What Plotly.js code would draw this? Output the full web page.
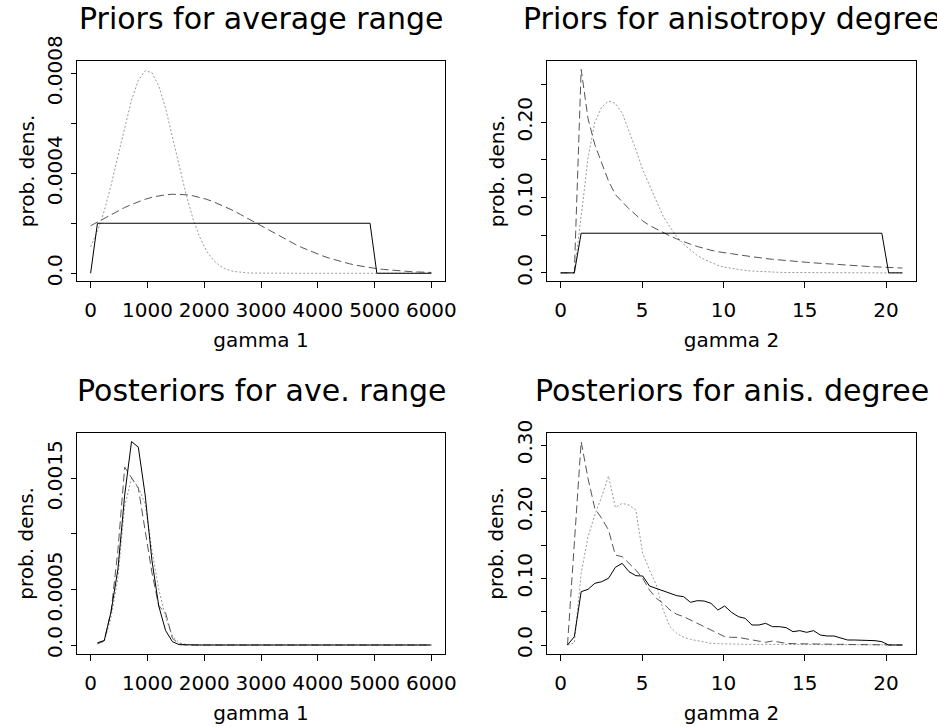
<!DOCTYPE html>
<html>
<head>
<meta charset="utf-8">
<script src="https://cdn.plot.ly/plotly-3.0.1.min.js"></script>
<style>html,body{margin:0;padding:0;background:#fff;}#chart{width:937px;height:727px;}</style>
</head>
<body>
<div id="chart"></div>
<script>
// ---------- Data ----------
const panelTitles = ["Priors for average range", "Priors for anisotropy degree", "Posteriors for ave. range", "Posteriors for anis. degree"];
const xTitles = ["gamma 1", "gamma 2", "gamma 1", "gamma 2"];
const yTitle = "prob. dens.";

// Panel 1: priors gamma 1
const p1X = [0,120,240,360,480,600,720,840,960,1080,1200,1320,1440,1560,1680,1800,1920,2040,2160,2280,2400,2520,2640,2760,2880,3000,3120,3240,3360,3480,3600,3720,3840,3960,4080,4200,4320,4440,4560,4680,4800,4920,5040,5160,5280,5400,5520,5640,5760,5880,6000];
const p1Solid = [0,0.0002,0.0002,0.0002,0.0002,0.0002,0.0002,0.0002,0.0002,0.0002,0.0002,0.0002,0.0002,0.0002,0.0002,0.0002,0.0002,0.0002,0.0002,0.0002,0.0002,0.0002,0.0002,0.0002,0.0002,0.0002,0.0002,0.0002,0.0002,0.0002,0.0002,0.0002,0.0002,0.0002,0.0002,0.0002,0.0002,0.0002,0.0002,0.0002,0.0002,0.0002,0,0,0,0,0,0,0,0,0];
const p1Dashed = [0.000190,0.000205,0.000220,0.000235,0.000250,0.000263,0.000275,0.000286,0.000296,0.000304,0.000310,0.000314,0.000316,0.000316,0.000314,0.000310,0.000304,0.000296,0.000286,0.000275,0.000263,0.000250,0.000235,0.000220,0.000205,0.000190,0.000174,0.000159,0.000144,0.000130,0.000116,0.000103,0.0000913,0.0000801,0.0000699,0.0000605,0.0000521,0.0000445,0.0000378,0.0000319,0.0000268,0.0000223,0.0000185,0.0000152,0.0000124,0.0000101,0.0000081,0.0000065,0.0000052,0.0000041,0.0000032];
const p1Dotted = [0.000106,0.000167,0.000250,0.000352,0.000468,0.000587,0.000693,0.000772,0.000810,0.000802,0.000749,0.000660,0.000548,0.000429,0.000316,0.000220,0.000145,0.0000895,0.0000522,0.0000287,0.0000149,0.0000073,0.0000034,0.0000015,0.0000006,0.0000002,0,0,0,0,0,0,0,0,0,0,0,0,0,0,0,0,0,0,0,0,0,0,0,0,0];

// Panel 2: priors gamma 2
const p2X = [0,0.42,0.84,1.26,1.68,2.1,2.52,2.94,3.36,3.78,4.2,4.62,5.04,5.46,5.88,6.3,6.72,7.14,7.56,7.98,8.4,8.82,9.24,9.66,10.08,10.5,10.92,11.34,11.76,12.18,12.6,13.02,13.44,13.86,14.28,14.7,15.12,15.54,15.96,16.38,16.8,17.22,17.64,18.06,18.48,18.9,19.32,19.74,20.16,20.58,21];
const p2Solid = [0,0,0,0.0526,0.0526,0.0526,0.0526,0.0526,0.0526,0.0526,0.0526,0.0526,0.0526,0.0526,0.0526,0.0526,0.0526,0.0526,0.0526,0.0526,0.0526,0.0526,0.0526,0.0526,0.0526,0.0526,0.0526,0.0526,0.0526,0.0526,0.0526,0.0526,0.0526,0.0526,0.0526,0.0526,0.0526,0.0526,0.0526,0.0526,0.0526,0.0526,0.0526,0.0526,0.0526,0.0526,0.0526,0.0526,0,0,0];
const p2Dashed = [0,0,0,0.270,0.205,0.170,0.145,0.122,0.104,0.094,0.085,0.077,0.069,0.063,0.058,0.053,0.049,0.045,0.041,0.038,0.035,0.032,0.030,0.028,0.027,0.0255,0.024,0.0225,0.021,0.020,0.019,0.018,0.017,0.016,0.015,0.0145,0.014,0.0133,0.0126,0.012,0.0113,0.0107,0.0101,0.0095,0.009,0.0085,0.008,0.0076,0.0072,0.0068,0.0064];
const p2Dotted = [0,0,0,0.075,0.152,0.200,0.220,0.228,0.225,0.212,0.188,0.164,0.137,0.117,0.095,0.075,0.061,0.048,0.038,0.030,0.023,0.018,0.014,0.010,0.0075,0.0058,0.0043,0.0032,0.0024,0.0018,0.0013,0.001,0.0007,0.0005,0.0004,0.0003,0.0002,0,0,0,0,0,0,0,0,0,0,0,0,0,0];

// Panel 3: posteriors gamma 1
const p3X = [120,240,360,480,600,720,840,960,1080,1200,1320,1440,1560,1680,1800,1920,2040,2160,2280,2400,2520,2640,2760,2880,3000,3120,3240,3360,3480,3600,3720,3840,3960,4080,4200,4320,4440,4560,4680,4800,4920,5040,5160,5280,5400,5520,5640,5760,5880,6000];
const p3Solid = [0.00002,0.00004,0.0003,0.00068,0.00135,0.00183,0.00178,0.00135,0.00076,0.00035,0.00013,0.00003,0.000003,0,0,0,0,0,0,0,0,0,0,0,0,0,0,0,0,0,0,0,0,0,0,0,0,0,0,0,0,0,0,0,0,0,0,0,0,0];
const p3Dashed = [0.00001,0.00004,0.0003,0.00085,0.0016,0.00151,0.00141,0.00103,0.00065,0.00035,0.00029,0.00006,0.00001,0,0,0,0,0,0,0,0,0,0,0,0,0,0,0,0,0,0,0,0,0,0,0,0,0,0,0,0,0,0,0,0,0,0,0,0,0];
const p3Dotted = [0.00001,0.00003,0.00025,0.0006,0.00125,0.0015,0.00142,0.00127,0.00085,0.0005,0.00025,0.00008,0.00002,0.000005,0,0,0,0,0,0,0,0,0,0,0,0,0,0,0,0,0,0,0,0,0,0,0,0,0,0,0,0,0,0,0,0,0,0,0,0];

// Panel 4: posteriors gamma 2
const p4X = [0.42,0.84,1.26,1.68,2.1,2.52,2.94,3.36,3.78,4.2,4.62,5.04,5.46,5.88,6.3,6.72,7.14,7.56,7.98,8.4,8.82,9.24,9.66,10.08,10.5,10.92,11.34,11.76,12.18,12.6,13.02,13.44,13.86,14.28,14.7,15.12,15.54,15.96,16.38,16.8,17.22,17.64,18.06,18.48,18.9,19.32,19.74,20.16,20.58,21];
const p4Solid = [0,0.0125,0.080,0.0835,0.0925,0.095,0.100,0.1165,0.1225,0.110,0.104,0.1035,0.0885,0.085,0.0815,0.0775,0.074,0.0725,0.064,0.0665,0.066,0.0625,0.0525,0.0585,0.049,0.0425,0.040,0.030,0.030,0.0325,0.0275,0.0275,0.026,0.020,0.0215,0.019,0.0215,0.015,0.0135,0.0135,0.011,0.0075,0.0075,0.0075,0.0065,0.0065,0.005,0,0,0];
const p4Dashed = [0,0.15,0.305,0.25,0.205,0.19,0.1725,0.135,0.1325,0.1225,0.1125,0.100,0.0825,0.070,0.0625,0.0525,0.046,0.0425,0.0375,0.0325,0.0275,0.0225,0.0165,0.0125,0.0115,0.0115,0.0095,0.0075,0.0055,0.004,0.006,0.004,0.0025,0.002,0.002,0.0015,0.0015,0.001,0.001,0.001,0.001,0.0008,0.0008,0.0008,0.0008,0.0008,0.0008,0,0,0];
const p4Dotted = [0,0.003,0.1075,0.1625,0.195,0.2225,0.2535,0.2065,0.2125,0.21,0.2025,0.1375,0.1125,0.09,0.0525,0.0275,0.0175,0.0115,0.0085,0.0065,0.005,0.0025,0.002,0.0015,0.001,0.001,0.001,0.001,0.001,0.001,0.0005,0.0005,0.0005,0.0005,0.0005,0.0005,0.0005,0.0005,0.0005,0.0005,0.0005,0.0005,0.0005,0.0005,0.0005,0.0005,0.0005,0,0,0];

// Tick values and labels
const xTicksG1 = [0,1000,2000,3000,4000,5000,6000];
const xTicksG2 = [0,5,10,15,20];
const yTicks1 = [0,0.0002,0.0004,0.0006,0.0008];
const yTickText1 = ["0.0","","0.0004","","0.0008"];
const yTicks2 = [0,0.05,0.10,0.15,0.20,0.25];
const yTickText2 = ["0.0","","0.10","","0.20",""];
const yTicks3 = [0,0.0005,0.0010,0.0015];
const yTickText3 = ["0.0","0.0005","","0.0015"];
const yTicks4 = [0,0.05,0.10,0.15,0.20,0.25,0.30];
const yTickText4 = ["0.0","","0.10","","0.20","","0.30"];

// ---------- Figure ----------
const FONT = "DejaVu Sans, Arial, sans-serif";
const styles = {
  solid:  {color: "#000000", width: 1, dash: "solid"},
  dashed: {color: "#555555", width: 1, dash: "8px,4px"},
  dotted: {color: "#999999", width: 1, dash: "2px,2px"}
};
const panels = [
  {x: p1X, s: p1Solid, d: p1Dashed, o: p1Dotted, xa: "x",  ya: "y"},
  {x: p2X, s: p2Solid, d: p2Dashed, o: p2Dotted, xa: "x2", ya: "y2"},
  {x: p3X, s: p3Solid, d: p3Dashed, o: p3Dotted, xa: "x3", ya: "y3"},
  {x: p4X, s: p4Solid, d: p4Dashed, o: p4Dotted, xa: "x4", ya: "y4"}
];
const traces = [];
panels.forEach(p => {
  [["dotted", p.o], ["dashed", p.d], ["solid", p.s]].forEach(([k, ys]) => {
    traces.push({type: "scatter", mode: "lines", x: p.x, y: ys, xaxis: p.xa, yaxis: p.ya,
      line: styles[k], hoverinfo: "skip", showlegend: false});
  });
});

function xAxis(domain, range, ticks, title, anchor) {
  return {
    domain: domain, range: range, anchor: anchor,
    tickmode: "array", tickvals: ticks, ticktext: ticks.map(String), tickangle: 0,
    ticks: "outside", ticklen: 6, tickcolor: "#000", tickwidth: 1,
    ticklabelstandoff: 5,
    showline: true, mirror: true, linecolor: "#000", linewidth: 1,
    showgrid: false, zeroline: false,
    tickfont: {family: FONT, size: 20, color: "#000"},
    title: {text: title, font: {family: FONT, size: 20, color: "#000"}, standoff: 11},
    automargin: false, fixedrange: true
  };
}
function yAxis(domain, range, ticks, text, anchor) {
  return {
    domain: domain, range: range, anchor: anchor,
    tickmode: "array", tickvals: ticks, ticktext: text, tickangle: -90,
    ticks: "outside", ticklen: 5, tickcolor: "#000", tickwidth: 1,
    ticklabelstandoff: 1,
    showline: true, mirror: true, linecolor: "#000", linewidth: 1,
    showgrid: false, zeroline: false,
    tickfont: {family: FONT, size: 20, color: "#000"},
    title: {text: yTitle, font: {family: FONT, size: 20, color: "#000"}, standoff: 3},
    automargin: false, fixedrange: true
  };
}
const W = 937, H = 727;
const dxL = [77 / W, 445 / W], dxR = [547 / W, 916 / W];
const dyT = [1 - 281 / H, 1 - 61 / H], dyB = [1 - 654 / H, 1 - 432.7 / H];

const layout = {
  width: W, height: H,
  margin: {l: 0, r: 0, t: 0, b: 0},
  paper_bgcolor: "#fff", plot_bgcolor: "#fff",
  showlegend: false,
  font: {family: FONT, color: "#000"},
  xaxis:  xAxis(dxL, [-240, 6240], xTicksG1, xTitles[0], "y"),
  yaxis:  yAxis(dyT, [-0.000031, 0.000849], yTicks1, yTickText1, "x"),
  xaxis2: xAxis(dxR, [-0.84, 21.84], xTicksG2, xTitles[1], "y2"),
  yaxis2: yAxis(dyT, [-0.0108, 0.2812], yTicks2, yTickText2, "x2"),
  xaxis3: xAxis(dxL, [-240, 6240], xTicksG1, xTitles[2], "y3"),
  yaxis3: yAxis(dyB, [-0.000081, 0.00191], yTicks3, yTickText3, "x3"),
  xaxis4: xAxis(dxR, [-0.84, 21.84], xTicksG2, xTitles[3], "y4"),
  yaxis4: yAxis(dyB, [-0.0135, 0.3185], yTicks4, yTickText4, "x4"),
  annotations: [
    {text: panelTitles[0], x: 261 / W, y: 1 - 18 / H},
    {text: panelTitles[1], x: 731.5 / W, y: 1 - 18 / H},
    {text: panelTitles[2], x: 261 / W, y: 1 - 390 / H},
    {text: panelTitles[3], x: 731.5 / W, y: 1 - 390 / H}
  ].map(a => Object.assign(a, {xref: "paper", yref: "paper", xanchor: "center", yanchor: "middle",
    showarrow: false, font: {family: FONT, size: 30, color: "#000"}}))
};

Plotly.newPlot("chart", traces, layout, {staticPlot: true, displayModeBar: false});
</script>
</body>
</html>
